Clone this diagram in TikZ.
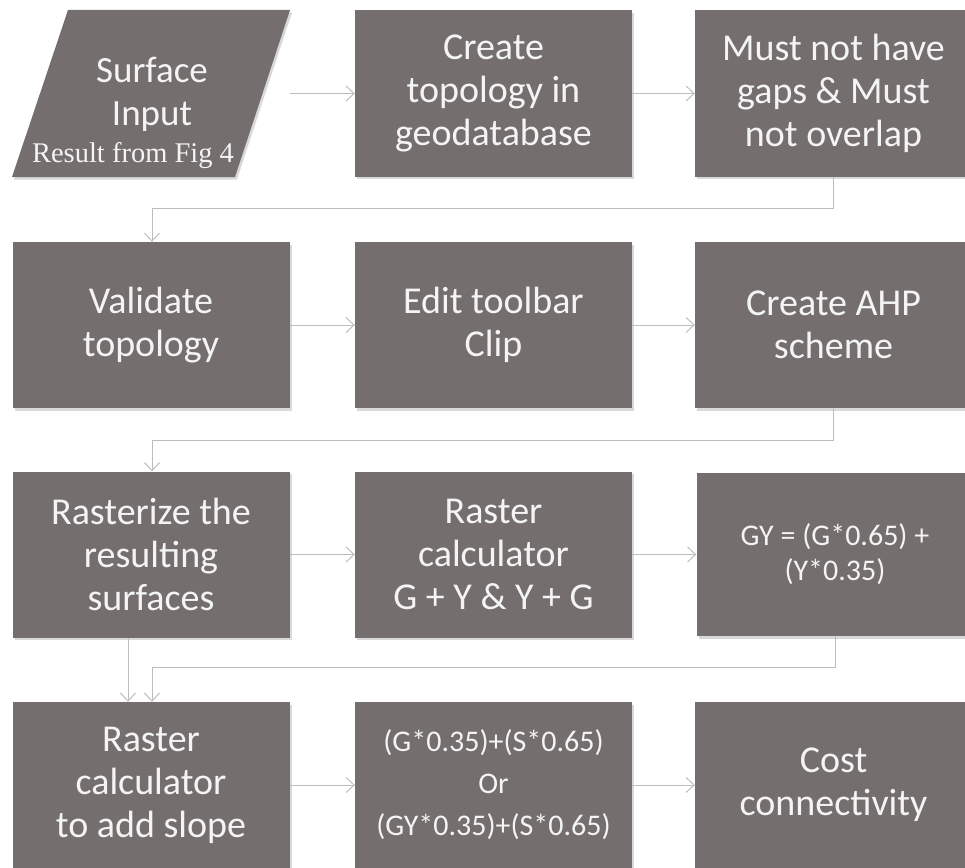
\documentclass[tikz,border=0pt]{standalone}
\usepackage{fontspec}
\setmainfont{Carlito}
\newfontfamily\tnr{Liberation Serif}
\usetikzlibrary{arrows.meta,shadows}
\definecolor{boxgray}{HTML}{746E6E}
\definecolor{txtwhite}{HTML}{F4F4F4}
\definecolor{linegray}{HTML}{BDBDBD}
\begin{document}
\begin{tikzpicture}[x=1pt,y=-1pt,
  stepbox/.style={fill=boxgray, text=txtwhite, minimum width=277pt, minimum height=166pt,
    inner sep=0pt, align=center, font=\fontsize{38}{43}\selectfont,
    drop shadow={shadow xshift=2pt,shadow yshift=-2.5pt,opacity=.3}},
  smallbox/.style={stepbox, font=\fontsize{30}{35}\selectfont},
  conn/.style={draw=linegray, line width=1pt, -{Straight Barb[length=8pt,width=15pt]}}]
\useasboundingbox (0,0) rectangle (965,867);
% input parallelogram
\node[minimum width=278pt, minimum height=167pt, inner sep=0pt] (in) at (151,93.5) {};
\path[fill=boxgray, drop shadow={shadow xshift=2pt,shadow yshift=-2.5pt,opacity=.3}]
  (68,10) -- (290,10) -- (235,177) -- (12,177) -- cycle;
\node[anchor=base, text=txtwhite, font=\fontsize{37}{43}\selectfont, align=center] (intxt) at (152,82) {Surface};
\node[anchor=base, text=txtwhite, font=\fontsize{37}{43}\selectfont] (intxt2) at (152,125) {Input};
\node[anchor=base, text=txtwhite, font=\tnr\fontsize{28.5}{32}\selectfont, inner sep=0pt] (res) at (133,162) {Result from Fig 4};
% row 1
\node[stepbox] (b2) at (493.5,93.5) {Create\\topology in\\geodatabase};
\node[stepbox] (b3) at (833.5,93.5) {Must not have\\gaps \& Must\\not overlap};
% row 2
\node[stepbox] (c1) at (151,325) {Validate\\topology};
\node[stepbox] (c2) at (493.5,325) {Edit toolbar\\Clip};
\node[stepbox] (c3) at (833.5,325) {Create AHP\\scheme};
% row 3
\node[stepbox] (d1) at (151,554.5) {Rasterize the\\resulting\\surfaces};
\node[stepbox] (d2) at (493.5,554.5) {Raster\\calculator\\G + Y \& Y + G};
\node[smallbox, minimum height=163pt] (d3) at (835,554.5) {GY = (G*0.65) +\\(Y*0.35)};
% row 4
\node[stepbox] (e1) at (151,785) {Raster\\calculator\\to add slope};
\node[smallbox, font=\fontsize{30}{42}\selectfont] (e2) at (493.5,785) {(G*0.35)+(S*0.65)\\Or\\(GY*0.35)+(S*0.65)};
\node[stepbox] (e3) at (833.5,785) {Cost\\connectivity};
% connectors
\draw[conn] (in.east) -- (b2.west);
\draw[conn] (b2.west -| b2.east) -- (b3.west);
\draw[conn] (b3.south) -- ++(0,32) -| ([xshift=1pt]c1.north);
\draw[conn] (c1.east) -- (c2.west);
\draw[conn] (c2.east) -- (c3.west);
\draw[conn] (c3.south) -- ++(0,32) -| ([xshift=1pt]d1.north);
\draw[conn] (d1.east) -- (d2.west);
\draw[conn] (d2.east) -- (d3.west);
\draw[conn] ([xshift=-23pt]d1.south) -- ([xshift=-23pt]e1.north);
\draw[conn] (d3.south) -- ++(0,31) -| ([xshift=1pt]e1.north);
\draw[conn] (e1.east) -- (e2.west);
\draw[conn] (e2.east) -- (e3.west);
\end{tikzpicture}
\end{document}
